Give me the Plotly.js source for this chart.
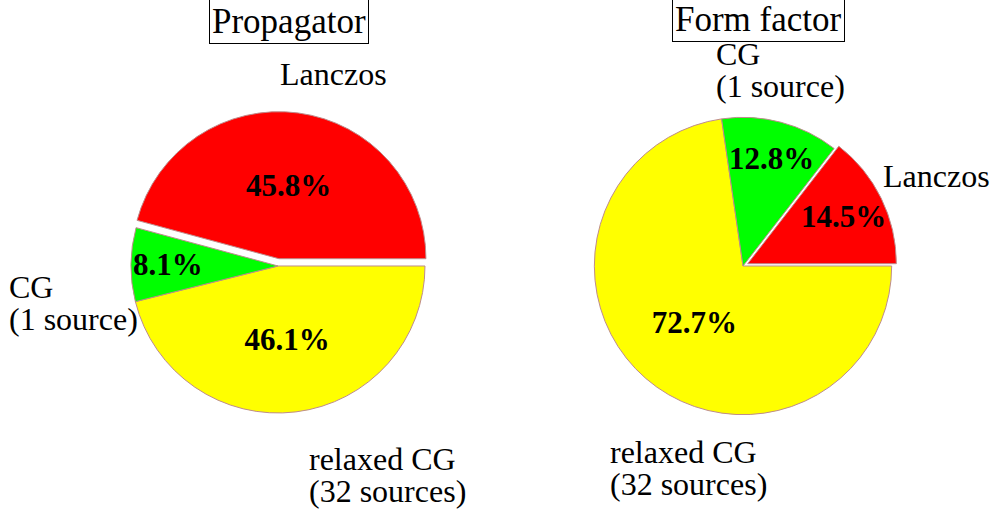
<!DOCTYPE html>
<html>
<head>
<meta charset="utf-8">
<script src="https://cdn.plot.ly/plotly-3.0.1.min.js"></script>
<style>html,body{margin:0;padding:0;background:#fff;}</style>
</head>
<body>
<div id="chart" style="width:993px;height:510px;"></div>
<script>
// Data (slice order as drawn by Plotly's counterclockwise layout)
const categories = ["relaxed CG (32 sources)", "Lanczos", "CG (1 source)"];
const propagatorValues = [46.1, 45.8, 8.1];
const formFactorValues = [72.7, 14.5, 12.8];
const sliceColors = ["#ffff00", "#ff0000", "#00ff00"];
const titles = ["Propagator", "Form factor"];
const labelLines = {
  lanczos: ["Lanczos"],
  cg: ["CG", "(1 source)"],
  relaxed: ["relaxed CG", "(32 sources)"]
};

const W = 993, H = 510;
const serif = "Liberation Serif, Times New Roman, serif";
const pctFont = {family: serif, size: 31, color: "#000", weight: "bold"};

const domains = [
  {x: [0.1245, 0.4354], y: [0.1758, 0.7811]},
  {x: [0.5933, 0.9032], y: [0.1767, 0.7802]}
];
const pulls = [0.05, 0.035];
const allValues = [propagatorValues, formFactorValues];

// narrow slices whose label Plotly would shrink are labelled with annotations
const smallThreshold = 20;

function pieTrace(values, domain, pull) {
  return {
    type: "pie",
    labels: categories,
    values: values,
    sort: false,
    direction: "counterclockwise",
    rotation: 90,
    pull: [0, pull, 0],
    marker: {colors: sliceColors, line: {color: "rgb(190,140,140)", width: 1}},
    texttemplate: "%{percent:.1%}",
    textposition: values.map(v => v < smallThreshold ? "none" : "inside"),
    insidetextorientation: "horizontal",
    textfont: pctFont,
    hoverinfo: "label+percent",
    showlegend: false,
    domain: domain
  };
}

const data = allValues.map((v, i) => pieTrace(v, domains[i], pulls[i]));

const annotations = [];
function titleAnn(text, x, y) {
  annotations.push({text: text, x: x, y: y, xref: "paper", yref: "paper",
    xanchor: "center", yanchor: "middle", showarrow: false,
    font: {family: serif, size: 35, color: "#000"},
    bordercolor: "#000", borderwidth: 1, borderpad: 2, bgcolor: "#fff"});
}
function labelAnn(lines, xpx, ypx, spacing) {
  lines.forEach(function (t, i) {
    annotations.push({text: t, x: xpx / W, y: 1 - (ypx + i * spacing) / H,
      xref: "paper", yref: "paper", xanchor: "left", yanchor: "middle",
      showarrow: false, font: {family: serif, size: 32, color: "#000"}});
  });
}
titleAnn(titles[0], 289 / W, 1 - 22 / H);
titleAnn(titles[1], 758 / W, 1 - 20 / H);

labelAnn(labelLines.lanczos, 278, 74, 32);
labelAnn(labelLines.cg, 7, 287, 32);
labelAnn(labelLines.relaxed, 307, 459, 32);

labelAnn(labelLines.cg, 714, 54, 32);
labelAnn(labelLines.lanczos, 881, 176, 32);
labelAnn(labelLines.relaxed, 608, 452, 32);

// percentage labels for narrow slices, placed along the slice's mid-angle
allValues.forEach(function (values, k) {
  const d = domains[k];
  const total = values.reduce((a, b) => a + b, 0);
  const wpx = (d.x[1] - d.x[0]) * W, hpx = (d.y[1] - d.y[0]) * H;
  const r = Math.min(wpx, hpx) / (2 + 2 * pulls[k]);
  const cx = (d.x[0] + d.x[1]) / 2 * W;
  const cy = (1 - (d.y[0] + d.y[1]) / 2) * H;
  // counterclockwise from 3 o'clock, beginning with the second slice
  let start = 0;
  for (let j = 1; j <= values.length; j++) {
    const idx = j % values.length;
    const sweep = values[idx] / total * 360;
    if (values[idx] < smallThreshold) {
      const mid = (start + sweep / 2) * Math.PI / 180;
      const rr = 0.75 * r;
      annotations.push({text: (values[idx] / total * 100).toFixed(1) + "%",
        x: (cx + rr * Math.cos(mid)) / W, y: 1 - (cy - rr * Math.sin(mid)) / H,
        xref: "paper", yref: "paper", xanchor: "center", yanchor: "middle",
        showarrow: false, font: pctFont});
    }
    start += sweep;
  }
});

const layout = {
  width: W, height: H,
  margin: {l: 0, r: 0, t: 0, b: 0},
  paper_bgcolor: "#fff",
  annotations: annotations
};

Plotly.newPlot("chart", data, layout, {displayModeBar: false, staticPlot: true});
</script>
</body>
</html>
